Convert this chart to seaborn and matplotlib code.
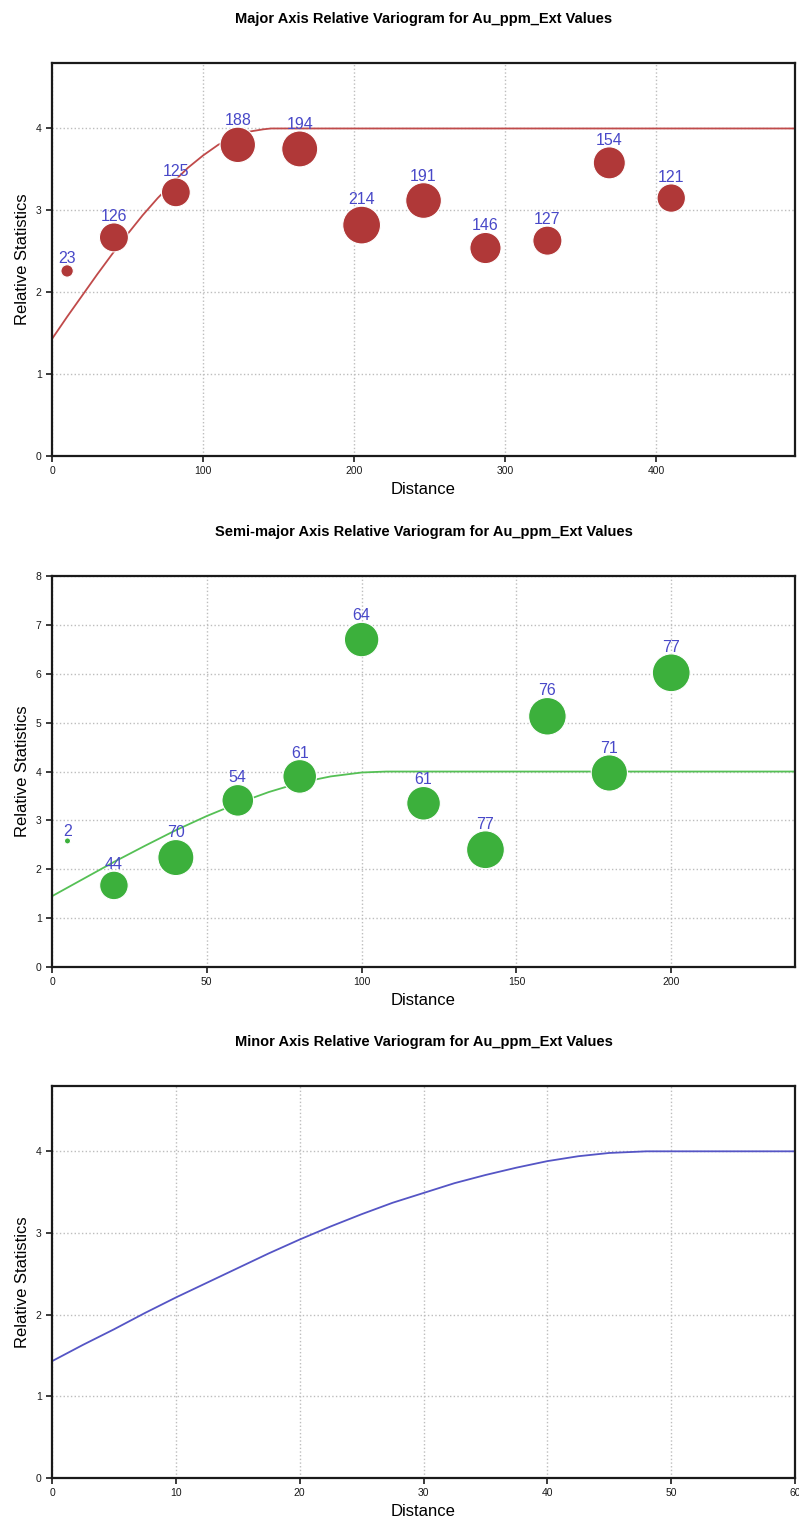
import numpy as np
import pandas as pd
import seaborn as sns
import matplotlib.pyplot as plt

sns.set_theme(style="ticks")
plt.rcParams['font.family'] = ['Liberation Sans', 'DejaVu Sans']
plt.rcParams['text.color'] = 'black'
plt.rcParams['axes.labelcolor'] = 'black'

# experimental variogram points (lag distance, relative statistic, pair count)
major_lag = [10, 41, 82, 123, 164, 205, 246, 287, 328, 369, 410]
major_gam = [2.26, 2.67, 3.22, 3.80, 3.75, 2.82, 3.12, 2.54, 2.63, 3.58, 3.15]
major_npairs = [23, 126, 125, 188, 194, 214, 191, 146, 127, 154, 121]

semi_lag = [5, 20, 40, 60, 80, 100, 120, 140, 160, 180, 200]
semi_gam = [2.58, 1.67, 2.24, 3.41, 3.90, 6.70, 3.35, 2.40, 5.13, 3.97, 6.02]
semi_npairs = [2, 44, 70, 54, 61, 64, 61, 77, 76, 71, 77]

# fitted model curves
major_model_x = [0, 10, 20, 30, 40, 50, 60, 70, 80, 90, 100, 110, 120, 130, 140, 145, 492]
major_model_y = [1.43, 1.70, 1.96, 2.22, 2.47, 2.71, 2.94, 3.15, 3.34, 3.52, 3.67, 3.80,
                 3.90, 3.96, 3.99, 4.00, 4.00]

semi_model_x = [0, 10, 20, 30, 40, 50, 60, 70, 80, 90, 100, 108, 240]
semi_model_y = [1.45, 1.80, 2.15, 2.48, 2.80, 3.09, 3.35, 3.58, 3.77, 3.90, 3.98, 4.00, 4.00]

minor_model_x = [0, 2.5, 5, 7.5, 10, 12.5, 15, 17.5, 20, 22.5, 25, 27.5, 30, 32.5, 35,
                 37.5, 40, 42.5, 45, 46.5, 48, 49, 60]
minor_model_y = [1.43, 1.63, 1.82, 2.02, 2.21, 2.39, 2.57, 2.75, 2.92, 3.08, 3.23, 3.37,
                 3.49, 3.61, 3.71, 3.80, 3.88, 3.94, 3.98, 3.99, 4.00, 4.00, 4.00]

titles = ["Major Axis Relative Variogram for Au_ppm_Ext Values",
          "Semi-major Axis Relative Variogram for Au_ppm_Ext Values",
          "Minor Axis Relative Variogram for Au_ppm_Ext Values"]

red_pt, red_line = "#b03838", "#c04a4a"
green_pt, green_line = "#3cb03c", "#55c055"
blue_line = "#5555c5"
label_col = "#4848c8"
SMAX = 740

fig = plt.figure(figsize=(7.99, 15.21), dpi=100)
ax1 = fig.add_axes([0.0651, 0.7002, 0.930, 0.2584])
ax2 = fig.add_axes([0.0651, 0.3642, 0.930, 0.2571])
ax3 = fig.add_axes([0.0651, 0.0283, 0.930, 0.2577])


def points(ax, lag, gam, npairs, color):
    df = pd.DataFrame({"lag": lag, "gam": gam, "n": npairs})
    sns.scatterplot(data=df, x="lag", y="gam", size="n", sizes=(0, SMAX),
                    size_norm=(0, max(npairs)), color=color, edgecolor="white",
                    linewidth=0.8, alpha=1, legend=False, zorder=3, ax=ax)
    for x, y, n in zip(lag, gam, npairs):
        r = np.sqrt(SMAX * n / max(npairs)) / 2
        ax.annotate(str(n), (x, y), xytext=(0, r + 1.5), textcoords="offset points",
                    ha="center", va="baseline", fontsize=11.5, color=label_col, zorder=4)


def model(ax, xs, ys, color):
    sns.lineplot(x=xs, y=ys, color=color, linewidth=1.3, sort=False,
                 estimator=None, zorder=2, ax=ax)


model(ax1, major_model_x, major_model_y, red_line)
points(ax1, major_lag, major_gam, major_npairs, red_pt)
ax1.set_xlim(0, 492)
ax1.set_ylim(0, 4.8)
ax1.set_yticks([0, 1, 2, 3, 4])

model(ax2, semi_model_x, semi_model_y, green_line)
points(ax2, semi_lag, semi_gam, semi_npairs, green_pt)
ax2.set_xlim(0, 240)
ax2.set_ylim(0, 8)
ax2.set_yticks(range(9))

model(ax3, minor_model_x, minor_model_y, blue_line)
ax3.set_xlim(0, 60)
ax3.set_ylim(0, 4.8)
ax3.set_yticks([0, 1, 2, 3, 4])

for ax, t in zip([ax1, ax2, ax3], titles):
    ax.set_title(t, fontsize=10.5, fontweight="bold", pad=29, color="black")
    ax.set_xlabel("Distance", fontsize=12)
    ax.set_ylabel("Relative Statistics", fontsize=12)
    ax.grid(True, linestyle=":", color="#bdbdbd", linewidth=1.0)
    ax.set_axisbelow(True)
    ax.tick_params(direction="out", length=4, width=1.2, labelsize=7.5,
                   colors="#1a1a1a")
    for s in ax.spines.values():
        s.set_linewidth(1.6)
        s.set_color("#1a1a1a")

fig.savefig("out.png", dpi=100)
